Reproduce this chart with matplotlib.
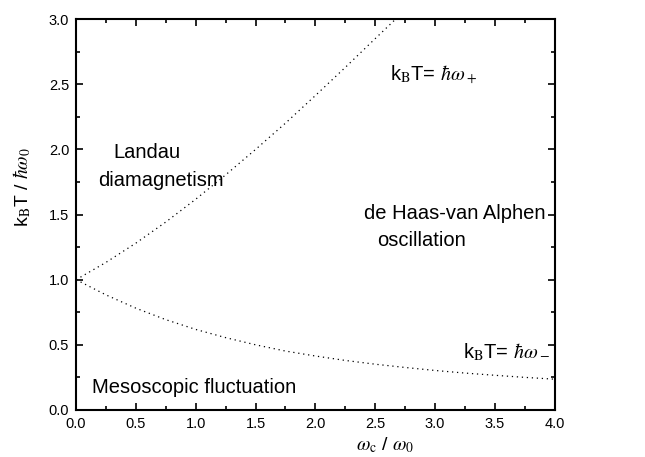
import matplotlib
matplotlib.use('Agg')
import matplotlib.pyplot as plt
from matplotlib.ticker import MultipleLocator, FormatStrFormatter

plt.rcParams['font.family'] = ['Liberation Sans', 'DejaVu Sans']
plt.rcParams['mathtext.fontset'] = 'stix'

# omega_c / omega_0 sample points
x_plus = [0.0, 0.25, 0.5, 0.75, 1.0, 1.25, 1.5, 1.75, 2.0, 2.25, 2.5, 2.67]
y_plus = [1.0, 1.133, 1.281, 1.443, 1.618, 1.805, 2.0, 2.202, 2.414, 2.630, 2.851, 3.0]

x_minus = [0.0, 0.25, 0.5, 0.75, 1.0, 1.25, 1.5, 1.75, 2.0, 2.25, 2.5, 2.75,
           3.0, 3.25, 3.5, 3.75, 4.0]
y_minus = [1.0, 0.883, 0.781, 0.693, 0.618, 0.555, 0.5, 0.452, 0.414, 0.380,
           0.351, 0.326, 0.303, 0.283, 0.266, 0.250, 0.236]

fig = plt.figure(figsize=(6.45, 4.57), dpi=100)
ax = fig.add_axes([0.118, 0.103, 0.742, 0.855])

ax.plot(x_plus, y_plus, color='k', lw=0.9, linestyle=(0, (1, 3)))
ax.plot(x_minus, y_minus, color='k', lw=0.9, linestyle=(0, (1, 3)))

ax.set_xlim(0, 4)
ax.set_ylim(0, 3)
ax.xaxis.set_major_locator(MultipleLocator(0.5))
ax.xaxis.set_minor_locator(MultipleLocator(0.25))
ax.yaxis.set_major_locator(MultipleLocator(0.5))
ax.yaxis.set_minor_locator(MultipleLocator(0.25))
ax.xaxis.set_major_formatter(FormatStrFormatter('%.1f'))
ax.yaxis.set_major_formatter(FormatStrFormatter('%.1f'))
ax.tick_params(which='both', direction='in', top=True, right=True, labelsize=10.5, width=1.2)
ax.tick_params(which='major', length=5, pad=5)
ax.tick_params(which='minor', length=3)
for s in ax.spines.values():
    s.set_linewidth(1.5)

ax.set_xlabel(r'$\omega_{\rm c}$ / $\omega_0$', fontsize=14)
ax.xaxis.set_label_coords(0.645, -0.064)
ax.set_ylabel(r'k$_{\rm B}$T / $\hbar\omega_0$', fontsize=14)
ax.yaxis.set_label_coords(-0.09, 0.57)

fs = 14.5
ax.text(2.62, 2.57, r'k$_{\rm B}$T= $\hbar\omega_+$', fontsize=fs, va='center')
ax.text(3.96, 0.445, r'k$_{\rm B}$T= $\hbar\omega_-$', fontsize=fs, va='center', ha='right')
ax.text(0.31, 1.98, 'Landau', fontsize=fs, va='center')
ax.text(0.18, 1.765, 'diamagnetism', fontsize=fs, va='center')
ax.text(2.41, 1.51, 'de Haas-van Alphen', fontsize=fs, va='center')
ax.text(2.52, 1.30, 'oscillation', fontsize=fs, va='center')
ax.text(0.13, 0.17, 'Mesoscopic fluctuation', fontsize=fs, va='center')

fig.savefig('out.png', dpi=100)
